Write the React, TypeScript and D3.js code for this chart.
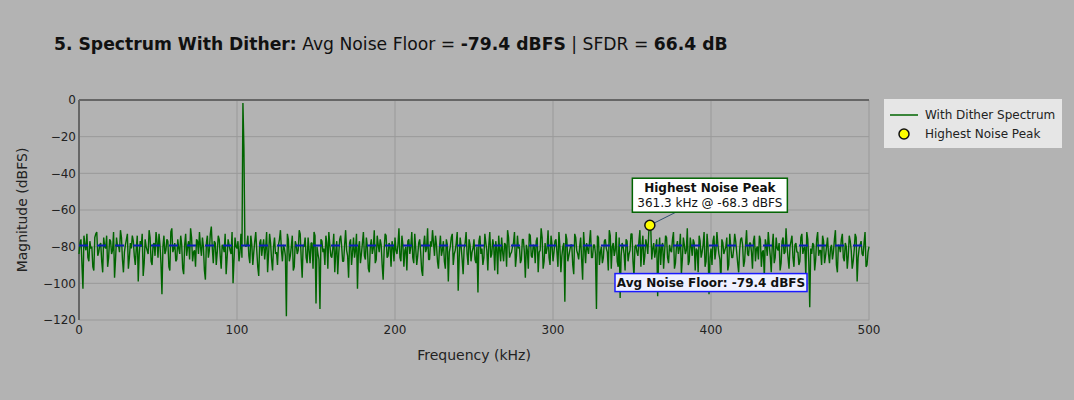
import * as d3 from 'd3'
import React from 'react'

// spectrum bins (dBFS), bin width 0.625 kHz.
// evenBins: 0, 1.25, 2.5 ... 500 kHz; oddBins: 0.625, 1.875 ... 499.375 kHz
const binWidthKHz = 0.625
const evenBins: number[] = [
  -84, -76, -103, -79, -73, -88, -81, -91, -75, -72, -83, -78, -94, -80, -74, -86, -77, -82, -97, -75,
  -79, -71, -87, -83, -76, -92, -78, -74, -85, -81, -99, -77, -73, -89, -80, -84, -75, -90, -78, -72,
  -86, -79, -106, -74, -82, -77, -93, -70, -81, -88, -76, -84, -79, -95, -73, -80, -87, -75, -83, -91,
  -77, -72, -85, -80, -98, -74, -82, -69, -89, -78, -83, -76, -92, -80, -73, -86, -79, -84, -100, -75,
  -81, -88, -73, -1.6, -79, -79, -85, -74, -90, -77, -82, -96, -76, -80, -87, -72, -84, -78, -93, -75,
  -83, -79, -71, -88, -81, -118, -76, -85, -74, -91, -79, -82, -73, -97, -80, -86, -75, -89, -78, -72,
  -111, -84, -114, -77, -81, -74, -92, -79, -86, -73, -83, -95, -76, -80, -88, -71, -85, -78, -90, -75,
  -82, -103, -77, -84, -72, -87, -80, -94, -76, -81, -89, -74, -83, -79, -98, -73, -86, -78, -91, -80,
  -75, -84, -70, -88, -79, -82, -93, -76, -80, -86, -73, -90, -78, -83, -96, -74, -81, -87, -77, -71,
  -85, -79, -92, -74, -82, -88, -76, -99, -80, -73, -84, -78, -104, -75, -87, -81, -72, -90, -79, -83,
  -76, -89, -105, -74, -81, -86, -78, -93, -72, -84, -80, -77, -95, -82, -75, -88, -79, -71, -86, -83,
  -78, -91, -74, -80, -87, -76, -97, -82, -73, -85, -79, -89, -75, -83, -70, -92, -78, -81, -86, -74,
  -88, -77, -83, -72, -94, -80, -110, -76, -85, -79, -90, -73, -82, -87, -75, -98, -81, -78, -84, -71,
  -86, -79, -114, -75, -83, -89, -77, -81, -93, -74, -80, -85, -72, -91, -108, -78, -84, -76, -88, -82,
  -73, -96, -79, -85, -71, -81, -90, -76, -84, -68.3, -87, -78, -82, -107, -75, -80, -92, -74, -86, -79,
  -83, -72, -89, -77, -81, -95, -75, -84, -70, -88, -80, -76, -93, -82, -74, -86, -79, -91, -73, -106,
  -81, -77, -87, -72, -84, -99, -78, -82, -75, -90, -80, -86, -73, -83, -94, -76, -79, -88, -71, -85,
  -78, -92, -74, -81, -87, -76, -83, -97, -79, -72, -85, -80, -89, -75, -82, -93, -77, -84, -70, -86,
  -80, -74, -91, -78, -83, -88, -73, -81, -96, -76, -113, -84, -79, -87, -72, -82, -90, -77, -85, -75,
  -89, -79, -83, -71, -94, -80, -76, -86, -78, -92, -74, -82, -88, -73, -99, -81, -77, -85, -72, -90,
  -80,
]
const oddBins: number[] = [
  -78, -90, -74, -82, -86, -77, -80, -93, -73, -85, -79, -88, -75, -81, -91, -76, -84, -72, -87, -80,
  -83, -75, -94, -79, -73, -86, -81, -77, -90, -74, -84, -80, -96, -76, -82, -71, -88, -79, -85, -77,
  -73, -89, -80, -84, -76, -91, -72, -83, -78, -87, -81, -74, -92, -79, -85, -77, -70, -88, -82, -76,
  -84, -80, -75, -93, -78, -86, -73, -81, -77, -90, -74, -85, -79, -83, -95, -76, -82, -72, -87, -80,
  -77, -83, -86, -26, -80, -74, -89, -79, -83, -72, -91, -78, -85, -76, -81, -94, -73, -87, -80, -84,
  -90, -76, -82, -79, -85, -73, -88, -80, -93, -77, -84, -71, -86, -79, -75, -89, -82, -78, -92, -74,
  -80, -87, -76, -83, -90, -78, -72, -85, -81, -94, -77, -84, -74, -88, -79, -82, -97, -76, -83, -86,
  -73, -81, -89, -78, -85, -75, -92, -80, -84, -71, -87, -79, -76, -90, -82, -74, -85, -80, -77, -88,
  -82, -79, -86, -74, -91, -80, -77, -84, -72, -89, -81, -85, -76, -93, -79, -83, -70, -87, -80, -78,
  -74, -88, -81, -85, -77, -92, -79, -83, -75, -90, -82, -72, -86, -80, -95, -78, -84, -76, -88, -81,
  -87, -80, -77, -84, -90, -73, -82, -79, -86, -76, -93, -81, -74, -88, -83, -78, -91, -75, -84, -80,
  -72, -85, -81, -89, -76, -83, -79, -92, -74, -86, -80, -77, -94, -82, -75, -88, -84, -71, -90, -79,
  -83, -76, -91, -80, -85, -78, -73, -88, -82, -79, -95, -75, -84, -80, -87, -72, -89, -81, -77, -86,
  -79, -84, -74, -90, -80, -86, -76, -83, -71, -92, -78, -82, -88, -75, -85, -80, -93, -77, -84, -73,
  -88, -80, -83, -77, -91, -74, -85, -79, -72, -70, -81, -86, -76, -84, -90, -78, -83, -75, -89, -82,
  -76, -92, -80, -84, -73, -87, -79, -82, -90, -75, -85, -78, -81, -94, -77, -83, -72, -88, -80, -86,
  -90, -74, -82, -79, -87, -76, -84, -80, -93, -73, -86, -81, -77, -89, -82, -75, -91, -79, -84, -78,
  -83, -77, -88, -80, -74, -91, -82, -76, -85, -79, -94, -73, -86, -81, -78, -89, -75, -83, -80, -92,
  -77, -86, -79, -83, -90, -75, -84, -80, -72, -88, -81, -78, -93, -76, -85, -82, -74, -89, -80, -84,
  -81, -87, -76, -90, -79, -83, -73, -88, -80, -85, -77, -92, -82, -75, -86, -79, -84, -78, -91, -83,
]

const avgNoiseFloor = -79.4
const sfdr = 66.4
const noisePeak = { freq: 361.3, mag: -68.3 }

const xTicks = [0, 100, 200, 300, 400, 500]
const yTicks = [0, -20, -40, -60, -80, -100, -120]

const W = 1074
const H = 400
const margin = { top: 100, right: 205, bottom: 80, left: 79 }
const font = '"DejaVu Sans", Verdana, sans-serif'

export default function App() {
  const innerW = W - margin.left - margin.right
  const innerH = H - margin.top - margin.bottom

  const x = d3.scaleLinear().domain([0, 500]).range([0, innerW])
  const y = d3.scaleLinear().domain([0, -120]).range([0, innerH])

  // interleave even and odd bins into one spectrum
  const points: [number, number][] = []
  evenBins.forEach((m, i) => {
    points.push([2 * i * binWidthKHz, m])
    if (i < oddBins.length) points.push([(2 * i + 1) * binWidthKHz, oddBins[i]])
  })
  const line = d3
    .line<[number, number]>()
    .x(d => x(d[0]))
    .y(d => y(d[1]))

  const px = x(noisePeak.freq)
  const py = y(noisePeak.mag)
  // annotation box centre, offset from the point
  const boxCx = px + 60
  const boxCy = py - 30
  const boxW = 155
  const boxH = 34

  const floorCx = x(400)
  const floorCy = y(avgNoiseFloor) + 37

  return (
    <svg
      width={W}
      height={H}
      style={{ position: 'absolute', left: 0, top: 0, background: '#b3b3b3', fontFamily: font }}
    >
      <text x={54} y={50} fontSize={17.2} fill="#111">
        <tspan fontWeight="bold">5. Spectrum With Dither:</tspan>
        <tspan> Avg Noise Floor = </tspan>
        <tspan fontWeight="bold">{avgNoiseFloor.toFixed(1)} dBFS</tspan>
        <tspan> | SFDR = </tspan>
        <tspan fontWeight="bold">{sfdr.toFixed(1)} dB</tspan>
      </text>

      <g transform={`translate(${margin.left},${margin.top})`}>
        {/* grid */}
        {xTicks.slice(1).map(t => (
          <line key={'gx' + t} x1={x(t)} x2={x(t)} y1={0} y2={innerH} stroke="#999" strokeWidth={1} />
        ))}
        {yTicks.slice(1).map(t => (
          <line key={'gy' + t} x1={0} x2={innerW} y1={y(t)} y2={y(t)} stroke="#999" strokeWidth={1} />
        ))}
        {/* zero lines */}
        <line x1={0} x2={innerW} y1={y(0)} y2={y(0)} stroke="#666" strokeWidth={2} />
        <line x1={x(0)} x2={x(0)} y1={0} y2={innerH} stroke="#666" strokeWidth={2} />

        {/* tick labels */}
        {yTicks.map(t => (
          <text key={'ty' + t} x={-3} y={y(t)} dy="0.36em" textAnchor="end" fontSize={12} fill="#222">
            {t === 0 ? '0' : '\u2212' + Math.abs(t)}
          </text>
        ))}
        {xTicks.map(t => (
          <text key={'tx' + t} x={x(t)} y={innerH + 14} textAnchor="middle" fontSize={12} fill="#222">
            {t}
          </text>
        ))}

        <path d={line(points) ?? ''} fill="none" stroke="#006400" strokeWidth={1.4} strokeLinejoin="bevel" />

        <line
          x1={x(0)}
          x2={x(500)}
          y1={y(avgNoiseFloor)}
          y2={y(avgNoiseFloor)}
          stroke="#0a1fb8"
          strokeWidth={2}
          strokeDasharray="9,9"
        />

        {/* highest noise peak */}
        <line x1={px} y1={py} x2={boxCx} y2={boxCy} stroke="#2f4f6f" strokeWidth={1} />
        <rect
          x={boxCx - boxW / 2}
          y={boxCy - boxH / 2}
          width={boxW}
          height={boxH}
          fill="#fff"
          stroke="#006400"
          strokeWidth={1.5}
        />
        <text x={boxCx} y={boxCy - 3} textAnchor="middle" fontSize={12} fontWeight="bold" fill="#111">
          Highest Noise Peak
        </text>
        <text x={boxCx} y={boxCy + 12} textAnchor="middle" fontSize={12} fill="#111">
          {noisePeak.freq.toFixed(1)} kHz @ {noisePeak.mag.toFixed(1)} dBFS
        </text>
        <circle cx={px} cy={py} r={5} fill="#ffff00" stroke="#111" strokeWidth={1.5} />

        {/* avg floor label */}
        <rect
          x={floorCx - 96}
          y={floorCy - 9}
          width={192}
          height={18}
          fill="#eef0ff"
          stroke="#1a1aff"
          strokeWidth={1.5}
        />
        <text x={floorCx} y={floorCy} dy="0.36em" textAnchor="middle" fontSize={12} fontWeight="bold" fill="#111">
          Avg Noise Floor: {avgNoiseFloor.toFixed(1)} dBFS
        </text>
      </g>

      {/* axis titles */}
      <text x={margin.left + innerW / 2} y={360} textAnchor="middle" fontSize={14} fill="#222">
        Frequency (kHz)
      </text>
      <text
        transform={`translate(27,${margin.top + innerH / 2}) rotate(-90)`}
        textAnchor="middle"
        fontSize={14}
        fill="#222"
      >
        Magnitude (dBFS)
      </text>

      {/* legend */}
      <g transform="translate(884,99)">
        <rect width={178} height={49} fill="#e6e6e6" />
        <line x1={6} x2={34} y1={16} y2={16} stroke="#006400" strokeWidth={1.5} />
        <text x={41} y={16} dy="0.36em" fontSize={12} fill="#222">
          With Dither Spectrum
        </text>
        <circle cx={20} cy={35} r={5} fill="#ffff00" stroke="#111" strokeWidth={1.5} />
        <text x={41} y={35} dy="0.36em" fontSize={12} fill="#222">
          Highest Noise Peak
        </text>
      </g>
    </svg>
  )
}
